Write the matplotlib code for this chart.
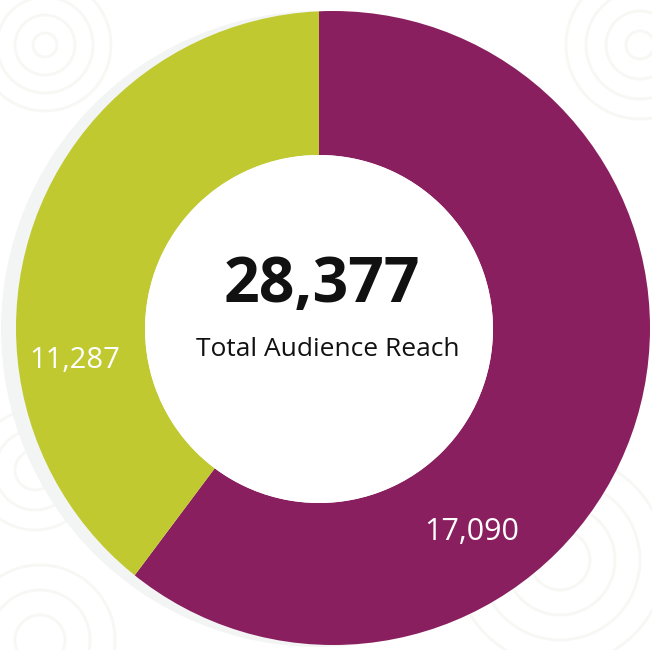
import matplotlib
matplotlib.use("Agg")
import matplotlib.pyplot as plt
from matplotlib.patches import Circle

plt.rcParams["font.family"] = ["Open Sans", "DejaVu Sans"]

# data
channels = ["Channel A", "Channel B"]
reach = [17090, 11287]
colors = ["#891f5e", "#c1c930"]
total_label = "Total Audience Reach"

W, H = 652, 650


def y(v):
    # image rows -> data y
    return H - v


fig = plt.figure(figsize=(W / 100, H / 100), dpi=100)
ax = fig.add_axes([0, 0, 1, 1])
ax.set_xlim(0, W)
ax.set_ylim(0, H)

# faint background swirls
swirls = [(45, 45, [12, 30, 48, 66]), (640, 45, [14, 34, 54, 74]),
          (35, 470, [20, 40, 60]), (560, 560, [30, 55, 80, 105]),
          (40, 640, [25, 50, 75])]
for cx, cy, radii in swirls:
    for r in radii:
        ax.add_patch(Circle((cx, y(cy)), r, fill=False, lw=2,
                            ec="#f7f7f4", zorder=0))

# soft shadow behind the ring
ax.add_patch(Circle((319, y(329)), 318, fc="#f3f5f5", ec="none", zorder=1))

wedges, _ = ax.pie(reach, colors=colors, startangle=90, counterclock=False,
                   radius=332, center=(319, y(329)),
                   wedgeprops=dict(width=158, linewidth=0))
ax.set_xlim(0, W)
ax.set_ylim(0, H)
clip = Circle((333, y(328)), 317, transform=ax.transData)
for w in wedges:
    w.set_zorder(2)
    w.set_clip_on(True)
    w.set_clip_path(clip)

# white hole
ax.add_patch(Circle((319, y(329)), 174, fc="white", ec="none", zorder=3))

ax.text(472, y(532), f"{reach[0]:,}", color="white", fontsize=22,
        ha="center", va="center", zorder=4)
ax.text(75, y(360), f"{reach[1]:,}", color="white", fontsize=21,
        ha="center", va="center", zorder=4)
ax.text(322, y(285), f"{sum(reach):,}", color="#111111", fontsize=45,
        fontweight="bold", ha="center", va="center", zorder=4)
ax.text(328, y(349), total_label, color="#111111", fontsize=19,
        ha="center", va="center", zorder=4)

ax.set_aspect("equal")
ax.axis("off")

fig.savefig("out.png", dpi=100, facecolor="white")
plt.close(fig)
